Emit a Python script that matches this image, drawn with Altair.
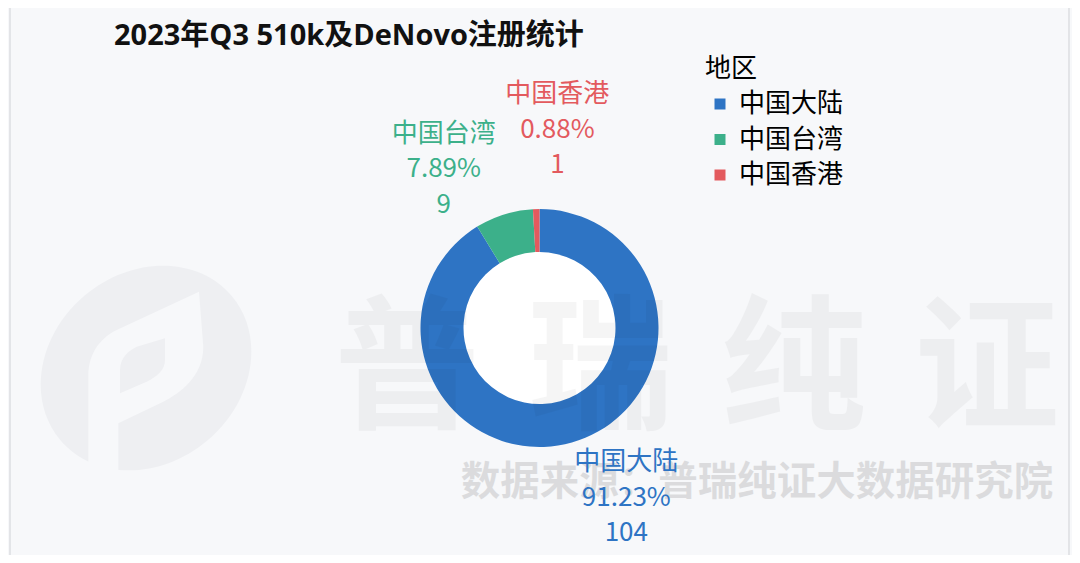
import altair as alt
import pandas as pd

# ---- data ----
regions = ["中国大陆", "中国台湾", "中国香港"]
counts = [104, 9, 1]
order_idx = [0, 1, 2]
colors = ["#2e74c4", "#3cb08a", "#e35a5e"]

title_text = "2023年Q3 510k及DeNovo注册统计"
legend_title = "地区"
wm_big = ["普\u2004瑞\u2004纯\u2004证"]
wm_source = ["数据来源：普瑞纯证大数据研究院"]

FONT = "Noto Sans CJK SC"
TITLE_FONT = "Open Sans, Noto Sans CJK SC"
BG = "#f7f8fa"
W, H = 1064, 547
CX, CY = 531.5, 320

df = pd.DataFrame({"region": regions, "count": counts, "idx": order_idx})

base = alt.Chart(df).transform_joinaggregate(
    total="sum(count)"
).transform_calculate(
    pct="format(datum.count / datum.total * 100, '.2f') + '%'",
    label="datum.region + '\\n' + datum.pct + '\\n' + datum.count",
)

color_scale = alt.Scale(domain=regions, range=colors)

# ---- decorations ----
one = pd.DataFrame({"k": [0]})
border = alt.Chart(one).mark_rule(color="#cfd1d5", strokeWidth=1).encode(
    x=alt.value(2), y=alt.value(0), y2=alt.value(H)
)
border2 = alt.Chart(one).mark_rule(color="#cfd1d5", strokeWidth=1).encode(
    x=alt.value(1061), y=alt.value(0), y2=alt.value(H)
)

ellipse_path = "M 85.8 -72 A 112 95 -40 1 1 -85.8 72 A 112 95 -40 1 1 85.8 -72 Z"
p_path = ("M -57.7 92 L -57.7 8.7 C -57.7 -18 -42.7 -31.3 -29.3 -38 L 53 -76.3 "
          "L 57.3 -21.3 C 57.3 8.7 34 25.3 17.3 33.7 L -27.7 55.3 L -27.7 110 L -57.7 110 Z")
hole_path = ("M -26 25.3 L -26 2 C -26 -11.3 -16 -18 -9.3 -21.3 L 19 -29.7 L 19 -8 "
             "C 19 2 10.7 8.7 0.7 13.7 Z")

logo_x, logo_y = 138, 360
logo1 = alt.Chart(one).mark_point(shape=ellipse_path, size=4, filled=True, fill="#eeeff2",
                                  opacity=1, strokeWidth=0).encode(
    x=alt.value(logo_x), y=alt.value(logo_y))
logo2 = alt.Chart(one).mark_point(shape=p_path, size=4, filled=True, fill=BG,
                                  opacity=1, strokeWidth=0).encode(
    x=alt.value(logo_x), y=alt.value(logo_y))
logo3 = alt.Chart(one).mark_point(shape=hole_path, size=4, filled=True, fill="#eeeff2",
                                  opacity=1, strokeWidth=0).encode(
    x=alt.value(logo_x), y=alt.value(logo_y))

hole = alt.Chart(one).mark_point(shape="circle", size=152 * 152, filled=True,
                                 fill="#ffffff", opacity=1, strokeWidth=0).encode(
    x=alt.value(CX), y=alt.value(CY))

# ---- donut ----
donut = base.mark_arc(innerRadius=76, outerRadius=119).encode(
    theta=alt.Theta("count:Q", stack=True),
    order=alt.Order("idx:Q"),
    color=alt.Color(
        "region:N", scale=color_scale, sort=regions,
        legend=alt.Legend(
            title=legend_title, orient="none", legendX=697, legendY=48,
            titleFont=FONT, titleFontSize=26, titleFontWeight="normal", titleColor="#000",
            labelFont=FONT, labelFontSize=26, labelColor="#000",
            symbolType="square", symbolSize=121, symbolStrokeWidth=0,
            symbolOffset=2, labelOffset=6, rowPadding=9.5, titlePadding=9, padding=0,
        ),
    ),
    x=alt.value(CX), y=alt.value(CY),
)

# ---- watermarks ----
wm1 = alt.Chart(pd.DataFrame({"t": wm_big})).mark_text(
    font=FONT, fontSize=145, fontWeight="bold", color="#000", opacity=0.036,
    align="center", baseline="middle",
).encode(text="t:N", x=alt.value(689), y=alt.value(366))

wm2 = alt.Chart(pd.DataFrame({"t": wm_source})).mark_text(
    font=FONT, fontSize=39.5, fontWeight="bold", color="#000", opacity=0.11,
    align="center", baseline="middle",
).encode(text="t:N", x=alt.value(749), y=alt.value(475))


# ---- labels ----
def label_layer(region, dx, dy):
    return base.mark_text(
        radius=150, dx=dx, dy=dy, font=FONT, fontSize=26, lineBreak="\n",
        lineHeight=35.5, align="center", baseline="middle",
    ).encode(
        theta=alt.Theta("count:Q", stack=True),
        order=alt.Order("idx:Q"),
        text=alt.condition(f"datum.region == '{region}'", "label:N", alt.value("")),
        color=alt.Color("region:N", scale=color_scale, legend=None),
        x=alt.value(CX), y=alt.value(CY),
    )


lab1 = label_layer(regions[0], 46, -10)
lab2 = label_layer(regions[1], -51, -51)
lab3 = label_layer(regions[2], 22, -84)

title = alt.Chart(pd.DataFrame({"t": [title_text]})).mark_text(
    font=TITLE_FONT, fontSize=29, fontWeight="bold", color="#111",
    align="left", baseline="middle",
).encode(text="t:N", x=alt.value(106), y=alt.value(28))

chart = alt.layer(
    border, border2, logo1, logo2, logo3, hole, donut, wm1, wm2, lab1, lab2, lab3, title
).properties(
    width=W, height=H, autosize=alt.AutoSizeParams(type="none"), padding=0,
    background=BG,
).configure_view(stroke=None)

chart.save("out.html", embed_options={"renderer": "svg", "actions": False})
